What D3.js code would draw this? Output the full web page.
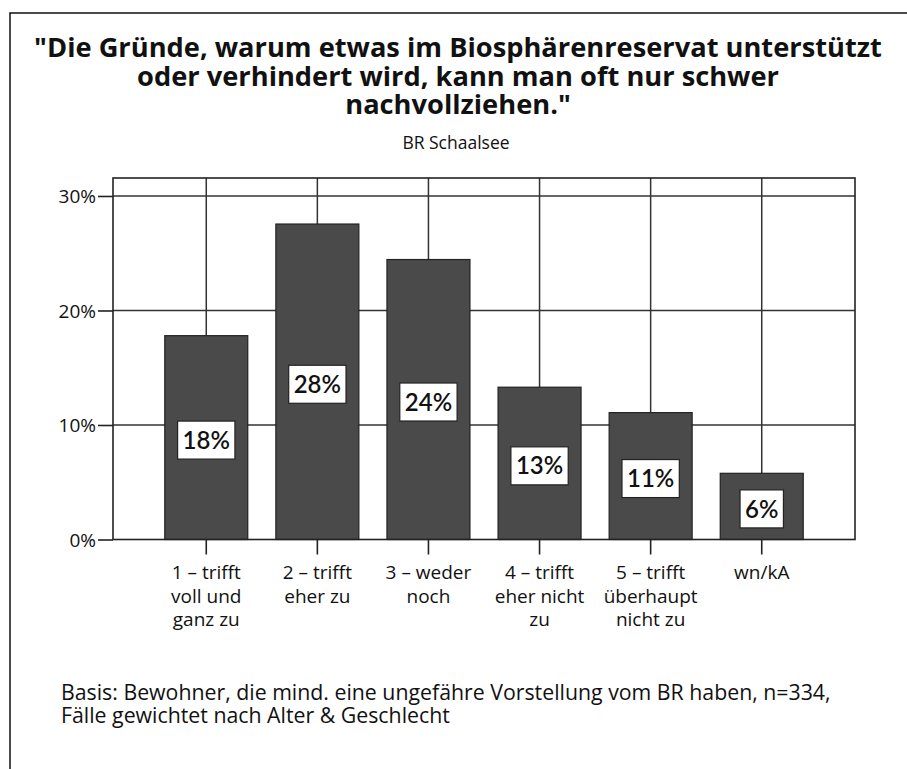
<!DOCTYPE html>
<html>
<head>
<meta charset="utf-8">
<script src="https://cdn.jsdelivr.net/npm/d3@7/dist/d3.min.js"></script>
<style>
  html, body { margin: 0; padding: 0; background: #fff; }
  svg { display: block; }
  text { font-family: "Open Sans", Lato, sans-serif; fill: #111; }
</style>
</head>
<body>
<svg id="chart" width="907" height="769"></svg>
<script>
// Answer categories (multi-line axis labels)
const categories = ["1", "2", "3", "4", "5", "wn"];
const categoryLines = [
  ["1 – trifft", "voll und", "ganz zu"],
  ["2 – trifft", "eher zu"],
  ["3 – weder", "noch"],
  ["4 – trifft", "eher nicht", "zu"],
  ["5 – trifft", "überhaupt", "nicht zu"],
  ["wn/kA"]
];
// Share of respondents per answer, in percent
const values = [17.8, 27.55, 24.45, 13.3, 11.08, 5.78];
const yTicks = [0, 10, 20, 30];
const titleLines = [
  "\"Die Gründe, warum etwas im Biosphärenreservat unterstützt",
  "oder verhindert wird, kann man oft nur schwer",
  "nachvollziehen.\""
];
const subtitle = "BR Schaalsee";
const footnoteLines = [
  "Basis: Bewohner, die mind. eine ungefähre Vorstellung vom BR haben, n=334,",
  "Fälle gewichtet nach Alter & Geschlecht"
];

const svg = d3.select("#chart");
const plot = { left: 113, right: 855, top: 178, bottom: 539.5 };

// Multi-line text block; font size chosen so the first line spans `width`.
function textBlock(lines, x, y, lineHeight, anchor, weight, baseSize, width) {
  const t = svg.append("text")
    .attr("transform", `translate(${x},${y})`)
    .attr("text-anchor", anchor)
    .style("font-weight", weight)
    .style("font-size", baseSize + "px");
  t.selectAll("tspan").data(lines).join("tspan")
    .attr("x", 0).attr("y", (d, i) => i * lineHeight)
    .text(d => d);
  if (width) {
    const w0 = t.select("tspan").node().getComputedTextLength();
    t.style("font-size", (baseSize * width / w0).toFixed(2) + "px");
  }
  return t;
}

// Outer frame
svg.append("rect")
  .attr("x", 10).attr("y", 13).attr("width", 1000).attr("height", 1000)
  .attr("fill", "none").attr("stroke", "#111").attr("stroke-width", 1.5);

// Title and subtitle
textBlock(titleLines, 458, 57, 28.5, "middle", "bold", 24, 848);

svg.append("text")
  .attr("x", 456).attr("y", 149).attr("text-anchor", "middle")
  .style("font-size", "17.5px")
  .attr("fill", "#222")
  .text(subtitle);

const x = d3.scaleBand()
  .domain(categories)
  .range([plot.left, plot.right])
  .paddingInner(0.253)
  .paddingOuter(0.466);

const y = d3.scaleLinear()
  .domain([0, 31.57])
  .range([plot.bottom, plot.top]);

const gridColor = "#333";

// Horizontal gridlines
svg.append("g").selectAll("line").data(yTicks.filter(t => t > 0)).join("line")
  .attr("x1", plot.left).attr("x2", plot.right)
  .attr("y1", d => y(d)).attr("y2", d => y(d))
  .attr("stroke", gridColor).attr("stroke-width", 1.5);

// Vertical gridlines at category centres
svg.append("g").selectAll("line").data(categories).join("line")
  .attr("x1", d => x(d) + x.bandwidth() / 2).attr("x2", d => x(d) + x.bandwidth() / 2)
  .attr("y1", plot.top).attr("y2", plot.bottom)
  .attr("stroke", gridColor).attr("stroke-width", 1.5);

// Bars
svg.append("g").selectAll("rect").data(values).join("rect")
  .attr("x", (d, i) => x(categories[i]))
  .attr("width", x.bandwidth())
  .attr("y", d => y(d))
  .attr("height", d => y(0) - y(d))
  .attr("fill", "#4a4a4a")
  .attr("stroke", "#222").attr("stroke-width", 1.2);

// Plot frame
svg.append("rect")
  .attr("x", plot.left).attr("y", plot.top)
  .attr("width", plot.right - plot.left).attr("height", plot.bottom - plot.top)
  .attr("fill", "none").attr("stroke", "#222").attr("stroke-width", 1.6);

// Y axis
const yAxis = d3.axisLeft(y).tickValues(yTicks).tickSize(15).tickPadding(2)
  .tickFormat(d => d + "%");
const gy = svg.append("g").attr("transform", `translate(${plot.left},0)`).call(yAxis);
gy.select(".domain").remove();
gy.selectAll(".tick line").attr("stroke", "#222").attr("stroke-width", 1.6);
gy.selectAll(".tick text").style("font-size", "19px").style("font-family", "'Open Sans', sans-serif")
  .attr("fill", "#222").attr("dy", "0.36em");

// X axis
const xAxis = d3.axisBottom(x).tickSize(15).tickFormat("");
const gx = svg.append("g").attr("transform", `translate(0,${plot.bottom})`).call(xAxis);
gx.select(".domain").remove();
gx.selectAll(".tick line").attr("stroke", "#222").attr("stroke-width", 1.6);

svg.append("g").selectAll("text").data(categories).join("text")
  .attr("text-anchor", "middle")
  .attr("transform", d => `translate(${x(d) + x.bandwidth() / 2},579)`)
  .style("font-size", "19px")
  .attr("fill", "#222")
  .each(function(d, i) {
    d3.select(this).selectAll("tspan").data(categoryLines[i]).join("tspan")
      .attr("x", 0).attr("y", (l, j) => j * 23.5)
      .text(l => l);
  });

// Value labels in white boxes
const labels = svg.append("g").selectAll("g").data(values).join("g")
  .attr("transform", (d, i) => `translate(${x(categories[i]) + x.bandwidth() / 2},${(y(d) + y(0)) / 2 + 2.5})`);
labels.append("text")
  .attr("text-anchor", "middle").attr("dy", "0.36em")
  .style("font-family", "Lato, sans-serif")
  .style("font-size", "24px").style("font-weight", "600")
  .text(d => Math.round(d) + "%");
labels.each(function() {
  const g = d3.select(this);
  const bb = g.select("text").node().getBBox();
  g.insert("rect", "text")
    .attr("x", bb.x - 5).attr("y", -19)
    .attr("width", bb.width + 10).attr("height", 38)
    .attr("fill", "#fff").attr("stroke", "#222").attr("stroke-width", 1.2);
});

// Footnote
textBlock(footnoteLines, 61, 700, 23, "start", "normal", 18, 770)
  .attr("fill", "#222");
</script>
</body>
</html>
